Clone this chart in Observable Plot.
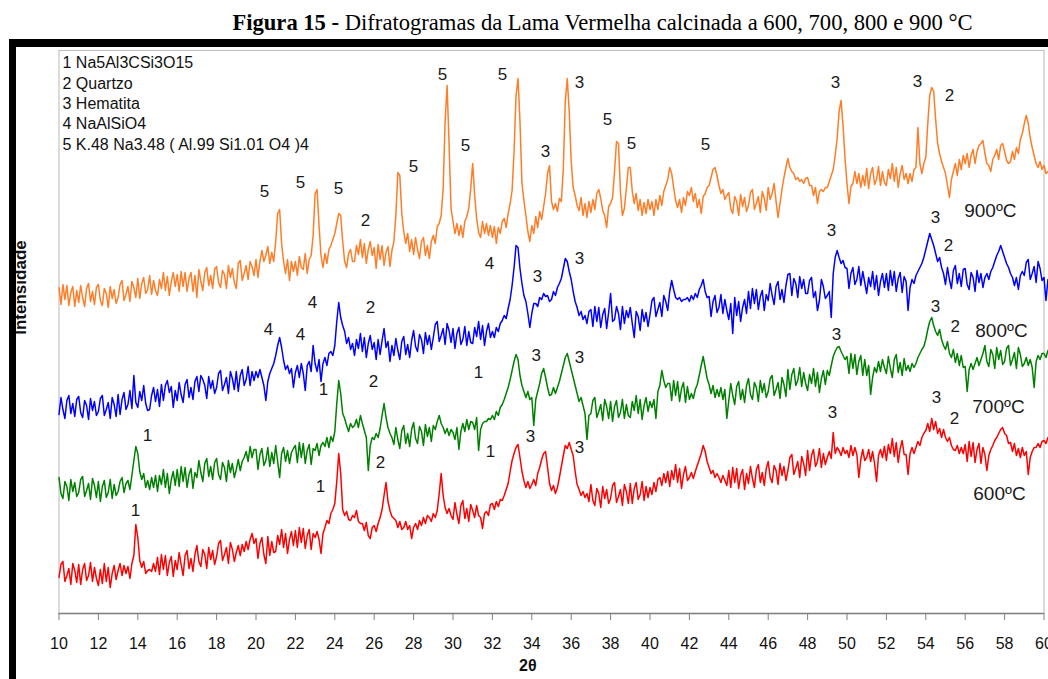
<!DOCTYPE html>
<html><head><meta charset="utf-8">
<script src="https://cdn.jsdelivr.net/npm/d3@7"></script>
<script src="https://cdn.jsdelivr.net/npm/@observablehq/plot@0.6"></script>
<style>
html,body{margin:0;padding:0;background:#fff;}
body{width:1048px;height:679px;position:relative;overflow:hidden;}
#title{position:absolute;left:0;width:1205px;top:12px;text-align:center;font-family:"Liberation Serif","Times New Roman",serif;font-size:22.6px;line-height:22.6px;color:#000;white-space:nowrap;}
#chart{position:absolute;left:0;top:38px;}
#box{position:absolute;left:9px;top:39px;width:1100px;height:700px;border-top:8px solid #000;border-left:7px solid #000;}
</style></head><body>
<div id="title"><b>Figura 15 -</b> Difratogramas da Lama Vermelha calcinada a 600, 700, 800 e 900 °C</div>
<div id="chart"></div>
<div id="box"></div>
<script>
// 2θ sampling grid: 10.0 … 60.2 in 0.1° steps (503 points per pattern)
const theta = d3.range(503).map(i => +(10 + i * 0.1).toFixed(1));

// Intensity (arbitrary units, with vertical offsets as in the figure)
const i900 = [
326,309,329,314,328,308,321,327,307,323, 311,328,316,307,325,330,312,322,309,326,
329,313,308,325,320,306,327,315,324,310, 316,329,333,313,319,327,312,332,326,316,
335,315,330,336,320,324,338,319,333,323, 318,334,325,341,323,337,318,332,341,327,
339,322,342,327,341,322,335,341,322,338, 316,344,332,323,341,346,328,338,325,344,
347,331,326,343,339,325,348,336,345,331, 325,350,353,333,340,348,334,352,347,338,
354,336,352,363,352,358,367,350,361,352, 372,400,404,370,352,340,354,333,352,342,
352,338,357,346,344,360,340,354,358,378, 420,424,388,358,346,360,350,364,368,374,
380,390,400,398,372,352,346,360,364,352, 352,368,359,374,356,370,350,364,372,358,
366,345,369,354,368,348,361,367,347,363, 372,398,441,438,400,382,370,380,362,374,
359,376,364,355,372,376,358,368,355,372, 378,370,387,390,398,425,492,528,470,405,
392,380,390,378,388,376,392,397,405,425, 450,418,395,381,376,392,380,390,378,388,
376,387,370,386,380,392,395,386,400,410, 423,462,518,535,492,430,413,398,382,372,
388,380,397,386,402,394,407,420,440,448, 412,404,410,402,415,412,445,512,535,502,
452,426,418,408,403,416,398,410,396,412, 401,414,404,420,424,415,403,398,386,407,
410,416,442,472,470,422,398,405,425,446, 446,422,410,420,403,414,398,411,400,414,
404,412,398,414,404,418,408,422,428,434, 446,440,426,413,406,414,401,416,408,422,
418,426,412,420,406,414,400,417,420,426, 428,436,444,446,438,428,420,424,414,418,
421,405,400,417,412,398,419,407,416,402, 408,421,424,404,410,417,401,422,415,403,
426,414,420,430,412,396,410,424,436,446, 455,446,442,440,434,436,432,434,430,435,
436,428,428,418,426,410,422,424,422,426, 426,432,438,444,458,475,502,513,488,455,
430,410,427,430,442,430,440,426,438,428, 445,425,440,446,429,434,447,428,442,431,
428,444,435,450,432,446,426,440,448,434, 440,430,440,432,444,446,486,450,440,450,
456,490,518,526,522,494,470,460,452,446, 440,428,416,434,442,450,438,454,444,458,
450,460,446,458,464,450,462,468,470,473, 460,450,448,442,454,458,464,454,468,470,
462,453,450,452,462,454,466,460,474,480, 490,498,490,476,466,458,450,446,452,444,
448,440,442];

const i800 = [
199,216,204,195,213,218,200,210,197,214, 217,201,196,213,208,194,215,203,212,198,
202,215,218,198,204,211,195,216,209,197, 219,199,214,221,204,209,223,205,238,211,
206,222,213,228,210,203,204,218,226,212, 224,207,229,213,228,233,221,227,206,223,
213,231,219,211,229,234,216,226,214,232, 237,222,238,234,228,215,237,225,233,220,
226,240,243,223,229,236,220,242,235,224, 242,222,238,244,228,234,247,228,242,233,
242,236,244,236,228,213,232,240,245,250, 258,268,276,266,253,244,248,240,245,226,
241,248,236,250,240,223,248,252,242,268, 250,242,254,232,250,256,248,260,262,258,
268,292,311,296,288,282,270,276,264,270, 258,274,265,280,262,276,256,270,278,264,
271,254,274,259,273,285,266,272,252,268, 258,275,263,254,272,277,259,269,256,273,
283,267,262,279,274,260,281,269,278,264, 276,289,292,272,278,285,269,290,283,271,
285,265,280,286,269,274,287,268,282,271, 270,286,277,292,274,288,268,282,290,276,
282,276,286,282,290,293,298,295,305,314, 328,346,368,366,345,330,318,312,300,286,
300,310,310,307,316,314,320,317,318,312, 314,322,318,326,330,335,345,355,352,342,
334,322,312,306,298,302,294,298,290,302, 304,287,307,292,306,286,299,305,285,301,
320,292,294,307,300,284,307,290,303,296, 306,290,276,302,297,283,304,292,301,287,
299,313,316,297,304,311,297,318,312,303, 322,333,324,316,314,316,312,314,314,316,
312,318,314,320,316,324,328,334,322,316, 317,297,312,318,301,306,319,300,314,303,
294,310,280,316,298,312,292,306,314,300, 322,305,325,310,324,304,317,323,303,319,
313,330,318,309,327,332,314,324,311,328, 339,340,318,335,330,316,337,325,334,320,
320,333,336,316,322,303,313,334,327,315, 318,322,296,340,356,363,356,350,353,346,
345,325,340,346,329,334,347,328,342,331, 320,336,327,342,324,338,318,332,340,326,
340,323,343,328,342,322,335,341,321,337, 332,303,326,334,330,338,342,346,350,356,
364,372,380,374,368,360,352,356,346,340, 329,346,334,325,343,348,330,340,327,344,
345,329,324,341,336,322,343,331,340,326, 336,340,334,342,346,352,358,362,368,362,
356,350,346,340,336,328,336,324,338,342, 338,351,354,334,340,347,331,352,345,333,
336,313,334];

const i700 = [
136,120,115,132,127,113,134,122,131,117, 121,134,137,117,123,130,114,135,128,116,
132,112,127,133,116,121,134,115,129,118, 122,132,136,121,130,133,124,138,153,167,
160,142,134,140,126,133,124,136,126,138, 122,138,129,144,126,140,120,134,142,128,
144,127,147,132,146,126,139,145,125,141, 136,153,141,132,150,155,137,147,134,151,
155,139,134,151,146,132,153,141,150,136, 144,154,143,152,156,162,152,167,156,164,
164,144,159,165,148,153,166,147,161,150, 168,152,136,160,166,152,163,150,161,165,
168,151,171,156,170,150,163,169,149,165, 163,170,158,168,171,167,176,166,177,172,
182,210,233,220,200,195,188,182,190,186, 188,194,186,198,190,183,176,143,168,176,
174,180,176,185,198,210,196,186,180,176, 169,186,174,165,183,188,170,180,167,184,
191,175,170,187,182,168,189,177,186,172, 188,184,192,198,190,186,180,185,178,184,
181,174,186,164,182,190,182,194,184,192, 191,184,196,163,184,190,192,192,195,194,
198,194,202,198,206,209,214,220,226,234, 243,252,259,254,238,228,222,216,222,214,
216,188,214,222,230,240,245,236,226,218, 219,226,220,226,232,240,248,256,260,252,
244,236,228,220,212,216,208,200,174,198, 200,213,216,196,202,209,193,214,207,195,
212,192,207,213,196,201,214,195,209,198, 196,212,203,218,200,214,194,208,216,202,
212,206,214,195,222,228,243,233,226,230, 230,213,233,218,232,212,225,231,211,227,
214,220,215,224,229,238,248,257,246,235, 229,220,228,216,224,217,226,214,224,195,
213,230,218,209,227,232,214,224,211,228, 235,219,214,231,226,212,233,221,230,216,
222,235,238,218,224,231,215,236,229,217, 244,224,239,245,228,233,246,227,241,230,
223,239,230,245,227,241,221,235,243,229, 243,238,248,257,262,266,267,262,258,254,
257,240,260,245,259,239,252,258,238,254, 238,248,219,236,246,241,252,242,254,246,
240,257,245,236,254,259,241,251,238,255, 243,248,242,250,246,250,256,260,264,267,
274,284,292,296,288,282,278,284,274,268, 264,272,260,256,264,251,260,248,258,246,
247,222,244,250,244,250,256,248,254,260, 268,252,247,264,259,245,266,254,263,249,
252,265,268,248,254,261,245,266,259,247, 250,256,248,254,246,226,252,258,254,260,
260,256,263];

const i600 = [
36,49,52,32,38,45,29,50,43,31, 49,29,44,50,33,38,51,32,46,35,
28,44,30,50,32,46,26,40,48,34, 43,50,38,48,40,47,35,50,58,89,
76,53,46,52,40,43,44,42,50,42, 56,39,59,44,58,38,51,57,37,53,
44,61,49,38,58,63,45,55,42,59, 68,52,47,64,59,45,66,54,63,49,
57,70,73,53,59,66,50,71,64,52, 61,68,58,69,62,72,64,74,80,70,
75,55,70,76,59,50,77,58,72,61, 62,78,69,84,66,80,60,74,82,68,
83,66,86,71,85,65,78,84,64,80, 76,82,74,60,80,86,93,90,100,104,
110,132,160,140,104,98,102,94,93,98, 96,103,92,90,90,83,91,78,75,86,
88,82,90,96,104,118,131,112,103,97, 95,93,86,92,84,86,92,84,88,75,
86,90,84,93,88,96,90,98,96,92, 100,96,103,120,140,118,106,100,105,98,
94,111,99,90,108,113,95,105,92,109, 103,96,108,98,96,85,100,102,98,109,
110,104,112,107,114,113,118,124,130,142, 153,160,166,169,156,142,133,126,132,125,
129,134,128,140,146,154,160,162,146,130, 123,128,120,126,136,147,158,168,165,171,
164,158,142,129,124,118,122,116,120,112, 129,113,108,125,120,106,127,115,124,110,
115,128,131,111,117,124,108,129,122,110, 130,110,125,131,114,119,132,113,127,116,
126,119,131,122,134,136,128,140,131,142, 127,143,134,149,131,145,125,139,147,133,
136,141,135,142,148,154,160,168,162,152, 146,140,143,136,140,136,131,138,133,128,
143,126,146,131,145,125,138,144,124,140, 130,147,135,126,144,149,131,141,128,145,
152,136,131,148,143,129,150,138,147,133, 143,156,159,139,145,152,136,157,150,138,
163,143,158,164,147,152,165,146,160,149, 156,162,155,181,160,166,163,158,166,160,
163,156,168,158,166,159,136,154,164,153, 156,164,152,162,150,132,158,164,156,167,
153,169,160,175,157,171,151,165,173,159, 159,139,160,166,160,166,172,168,176,180,
183,190,182,195,184,192,180,185,176,184, 176,172,176,168,164,163,168,160,166,160,
169,152,172,157,171,151,164,170,150,166, 159,143,158,164,168,173,176,180,184,186,
180,178,170,171,162,170,158,165,156,166, 158,162,139,156,162,166,166,170,166,172,
173,170,176];

// Phase labels: [2θ, intensity, phase number]
const peaks900 = [[20.43,422,"5"],[22.26,431,"5"],[24.19,425,"5"],[25.56,393,"2"],[27.99,447,"5"],[29.47,539,"5"],[30.63,468,"5"],[32.51,539,"5"],[34.70,462,"3"],[36.42,531,"3"],[37.84,494,"5"],[39.06,470,"5"],[42.82,469,"5"],[49.42,531,"3"],[53.58,532,"3"],[55.20,518,"2"]];
const peaks800 = [[20.63,284,"4"],[22.26,279,"4"],[22.87,311,"4"],[25.81,306,"2"],[31.85,350,"4"],[34.29,337,"3"],[36.42,355,"3"],[49.21,383,"3"],[54.49,396,"3"],[55.15,368,"2"]];
const peaks700 = [[14.49,178,"1"],[23.43,224,"1"],[25.96,232,"2"],[31.29,241,"1"],[34.23,258,"3"],[36.42,256,"3"],[49.47,279,"3"],[54.49,307,"3"],[55.50,287,"2"]];
const peaks600 = [[13.88,103,"1"],[23.27,127,"1"],[26.32,151,"2"],[31.90,162,"1"],[33.93,177,"3"],[36.42,166,"3"],[49.26,201,"3"],[54.54,216,"3"],[55.46,195,"2"]];

// Temperature labels: [text, 2θ, intensity]
const tempLabels = [["900ºC",57.28,403],["800ºC",57.84,283],["700ºC",57.69,207],["600ºC",57.74,120]];

const legendLines = ["1 Na5Al3CSi3O15","2 Quartzo","3 Hematita","4 NaAlSiO4","5 K.48 Na3.48 ( Al.99 Si1.01 O4 )4"];
const xTicks = [10,12,14,16,18,20,22,24,26,28,30,32,34,36,38,40,42,44,46,48,50,52,54,56,58,60];

const series = [
  {name: "600", values: i600, color: "#ff0000"},
  {name: "700", values: i700, color: "#008000"},
  {name: "800", values: i800, color: "#0000ff"},
  {name: "900", values: i900, color: "#ff7d26"}
];
const rows = s => s.values.map((v, k) => ({t: theta[k], v}));
const peakMark = arr => Plot.text(arr, {x: d => d[0], y: d => d[1], text: d => d[2], fontSize: 17, fill: "#1a1a1a"});

const chart = Plot.plot({
  width: 1048, height: 641,
  marginLeft: 58.5, marginRight: 4.5, marginTop: 12, marginBottom: 66,
  style: {background: "none", fontFamily: "'Liberation Sans', Arial, sans-serif", color: "#111"},
  x: {domain: [10, 60]},
  y: {domain: [0, 563], axis: null},
  marks: [
    Plot.frame({stroke: "#c4c4c4", strokeWidth: 1.2}),
    ...series.map(s => Plot.line(rows(s), {x: "t", y: "v", stroke: s.color, strokeWidth: 1.5})),
    Plot.ruleY([0], {stroke: "#808080", strokeWidth: 1.6}),
    Plot.axisX({ticks: xTicks, tickSize: 7, tickPadding: 17, fontSize: 16, tickFormat: d => String(d), stroke: "#808080", label: null}),
    peakMark(peaks900), peakMark(peaks800), peakMark(peaks700), peakMark(peaks600),
    Plot.text(tempLabels, {x: d => d[1], y: d => d[2], text: d => d[0], fontSize: 19, fill: "#1a1a1a"}),
    Plot.text([legendLines.join("\n")], {frameAnchor: "top-left", textAnchor: "start", lineAnchor: "top", lineHeight: 1.27, dx: 3.5, dy: 3.5, fontSize: 16, fill: "#111"}),
    Plot.text(["2θ"], {x: 33.8, frameAnchor: "bottom", dy: 57, fontSize: 16, fontWeight: "bold", fill: "#111"}),
    Plot.text(["Intensidade"], {y: 326, frameAnchor: "left", textAnchor: "middle", dx: -38.5, rotate: -90, fontSize: 17, fontWeight: "bold", fill: "#111"})
  ]
});
document.getElementById("chart").appendChild(chart);
</script></body></html>
